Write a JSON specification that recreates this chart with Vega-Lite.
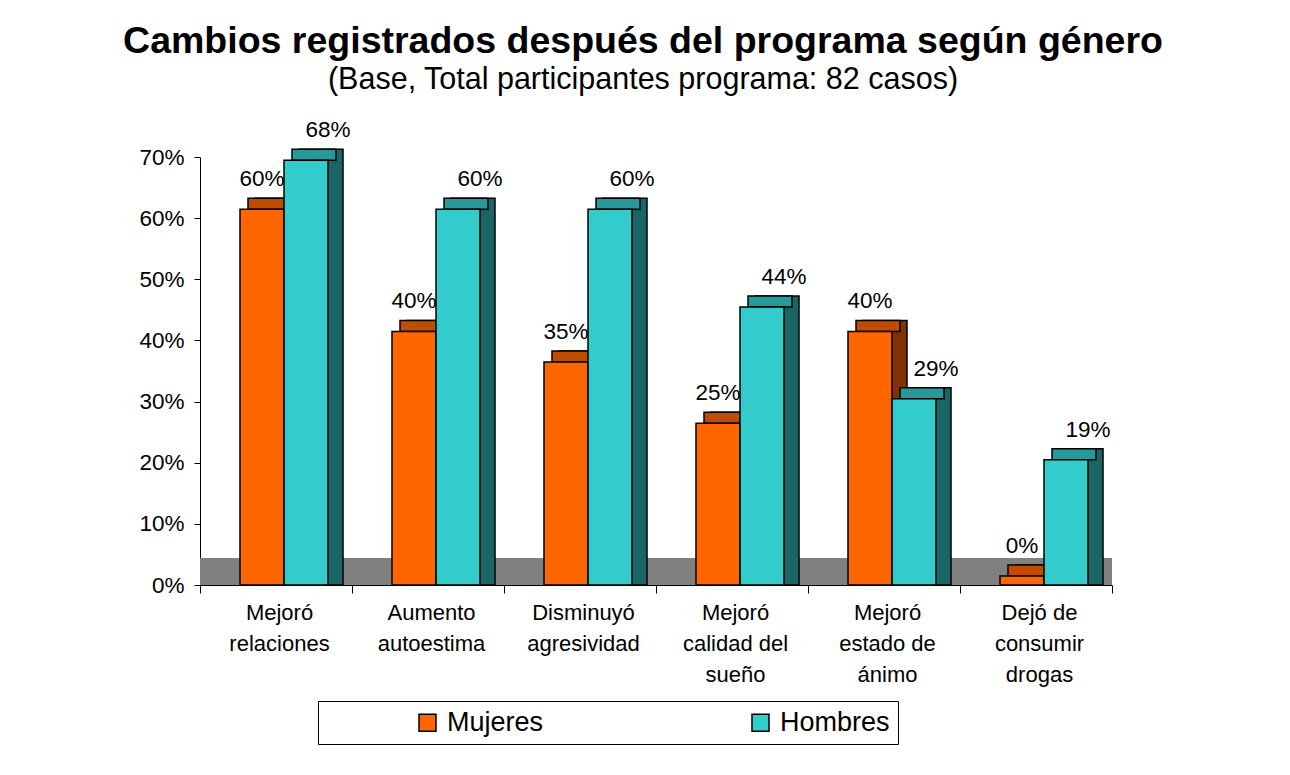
{
  "$schema": "https://vega.github.io/schema/vega-lite/v6.json",
  "width": 912,
  "height": 428,
  "autosize": {"type": "none"},
  "padding": {"left": 200, "top": 157, "right": 178, "bottom": 190},
  "background": "white",
  "title": {
    "text": "Cambios registrados después del programa según género",
    "subtitle": "(Base, Total participantes programa: 82 casos)",
    "font": "Liberation Sans",
    "fontSize": 37.5,
    "fontWeight": "bold",
    "color": "black",
    "subtitleFont": "Liberation Sans",
    "subtitleFontSize": 30.5,
    "subtitleColor": "black",
    "subtitlePadding": 4,
    "anchor": "middle",
    "frame": "group",
    "dx": -13,
    "offset": 24
  },
  "data": {
    "values": [
      {"cambio": "Mejoró relaciones", "genero": "Mujeres", "valor": 0.60},
      {"cambio": "Mejoró relaciones", "genero": "Hombres", "valor": 0.68},
      {"cambio": "Aumento autoestima", "genero": "Mujeres", "valor": 0.40},
      {"cambio": "Aumento autoestima", "genero": "Hombres", "valor": 0.60},
      {"cambio": "Disminuyó agresividad", "genero": "Mujeres", "valor": 0.35},
      {"cambio": "Disminuyó agresividad", "genero": "Hombres", "valor": 0.60},
      {"cambio": "Mejoró calidad del sueño", "genero": "Mujeres", "valor": 0.25},
      {"cambio": "Mejoró calidad del sueño", "genero": "Hombres", "valor": 0.44},
      {"cambio": "Mejoró estado de ánimo", "genero": "Mujeres", "valor": 0.40},
      {"cambio": "Mejoró estado de ánimo", "genero": "Hombres", "valor": 0.29},
      {"cambio": "Dejó de consumir drogas", "genero": "Mujeres", "valor": 0.00},
      {"cambio": "Dejó de consumir drogas", "genero": "Hombres", "valor": 0.19}
    ]
  },
  "layer": [
    {
      "transform": [{"aggregate": [{"op": "count", "as": "n"}]}],
      "mark": {"type": "rect", "color": "#808080"},
      "encoding": {
        "y": {"datum": 0, "type": "quantitative", "title": null},
        "y2": {"datum": 0.044}
      }
    },
    {
      "encoding": {
        "x": {
          "field": "cambio",
          "type": "nominal",
          "sort": null,
          "scale": {"paddingInner": 0, "paddingOuter": 0},
          "axis": {
            "title": null,
            "labelAngle": 0,
            "tickBand": "extent",
            "tickSize": 8,
            "tickColor": "black",
            "domainColor": "black",
            "labelPadding": 9,
            "labelFont": "Liberation Sans",
            "labelFontSize": 22,
            "labelColor": "black",
            "labelLineHeight": 31,
            "labelOffset": 3,
            "labelExpr": "datum.label == 'Mejoró relaciones' ? ['Mejoró', 'relaciones'] : datum.label == 'Aumento autoestima' ? ['Aumento', 'autoestima'] : datum.label == 'Disminuyó agresividad' ? ['Disminuyó', 'agresividad'] : datum.label == 'Mejoró calidad del sueño' ? ['Mejoró', 'calidad del', 'sueño'] : datum.label == 'Mejoró estado de ánimo' ? ['Mejoró', 'estado de', 'ánimo'] : datum.label == 'Dejó de consumir drogas' ? ['Dejó de', 'consumir', 'drogas'] : ''"
          }
        },
        "y": {
          "field": "valor",
          "type": "quantitative",
          "stack": null,
          "scale": {"domain": [0, 0.7], "nice": false},
          "axis": {
            "title": null,
            "values": [0, 0.1, 0.2, 0.3, 0.4, 0.5, 0.6, 0.7],
            "format": ".0%",
            "grid": false,
            "tickSize": 6,
            "tickColor": "black",
            "domainColor": "black",
            "labelPadding": 10,
            "labelFont": "Liberation Sans",
            "labelFontSize": 22.5,
            "labelColor": "black"
          }
        }
      },
      "layer": [
        {
          "transform": [{"filter": "datum.genero === 'Mujeres'"}],
          "mark": {"type": "bar", "width": 44, "xOffset": 1, "yOffset": -20, "y2Offset": -20, "fill": "#803300", "stroke": "black", "strokeWidth": 1.5}
        },
        {
          "transform": [{"filter": "datum.genero === 'Hombres'"}],
          "mark": {"type": "bar", "width": 44, "xOffset": 45, "yOffset": -20, "y2Offset": -20, "fill": "#1A6666", "stroke": "black", "strokeWidth": 1.5}
        },
        {
          "transform": [{"filter": "datum.genero === 'Mujeres'"}],
          "mark": {"type": "bar", "width": 44, "xOffset": -6, "yOffset": -20, "y2Offset": -9, "fill": "#C04C00", "stroke": "black", "strokeWidth": 1.5},
          "encoding": {"y2": {"field": "valor"}}
        },
        {
          "transform": [{"filter": "datum.genero === 'Hombres'"}],
          "mark": {"type": "bar", "width": 44, "xOffset": 38, "yOffset": -20, "y2Offset": -9, "fill": "#289999", "stroke": "black", "strokeWidth": 1.5},
          "encoding": {"y2": {"field": "valor"}}
        },
        {
          "mark": {"type": "bar", "yOffset": -9, "y2Offset": -9, "stroke": "black", "strokeWidth": 1.5, "opacity": 1},
          "encoding": {
            "xOffset": {
              "field": "genero",
              "type": "nominal",
              "sort": ["Mujeres", "Hombres"],
              "scale": {"paddingInner": 0, "paddingOuter": 0.7273, "align": 0.625}
            },
            "color": {
              "field": "genero",
              "type": "nominal",
              "sort": ["Mujeres", "Hombres"],
              "scale": {"domain": ["Mujeres", "Hombres"], "range": ["#FF6600", "#33CCCC"]},
              "legend": {
                "orient": "none",
                "legendX": 118,
                "legendY": 544,
                "direction": "horizontal",
                "title": null,
                "strokeColor": "black",
                "fillColor": "white",
                "padding": 8,
                "symbolType": "square",
                "symbolSize": 289,
                "symbolOffset": 88,
                "symbolStrokeColor": "black",
                "symbolStrokeWidth": 1.5,
                "symbolOpacity": 1,
                "labelFont": "Liberation Sans",
                "labelFontSize": 27,
                "labelColor": "black",
                "labelOffset": 6,
                "labelLimit": 400,
                "columnPadding": 115
              }
            }
          }
        },
        {
          "transform": [{"filter": "datum.genero === 'Mujeres'"}],
          "mark": {"type": "text", "baseline": "alphabetic", "dy": -32, "dx": 0, "font": "Liberation Sans", "fontSize": 22.5, "color": "black"},
          "encoding": {
            "xOffset": {"field": "genero", "type": "nominal", "sort": ["Mujeres", "Hombres"]},
            "text": {"field": "valor", "format": ".0%"}
          }
        },
        {
          "transform": [{"filter": "datum.genero === 'Hombres'"}],
          "mark": {"type": "text", "baseline": "alphabetic", "dy": -32, "dx": 22, "font": "Liberation Sans", "fontSize": 22.5, "color": "black"},
          "encoding": {
            "xOffset": {"field": "genero", "type": "nominal", "sort": ["Mujeres", "Hombres"]},
            "text": {"field": "valor", "format": ".0%"}
          }
        }
      ]
    }
  ],
  "config": {
    "view": {"stroke": null},
    "font": "Liberation Sans"
  }
}
